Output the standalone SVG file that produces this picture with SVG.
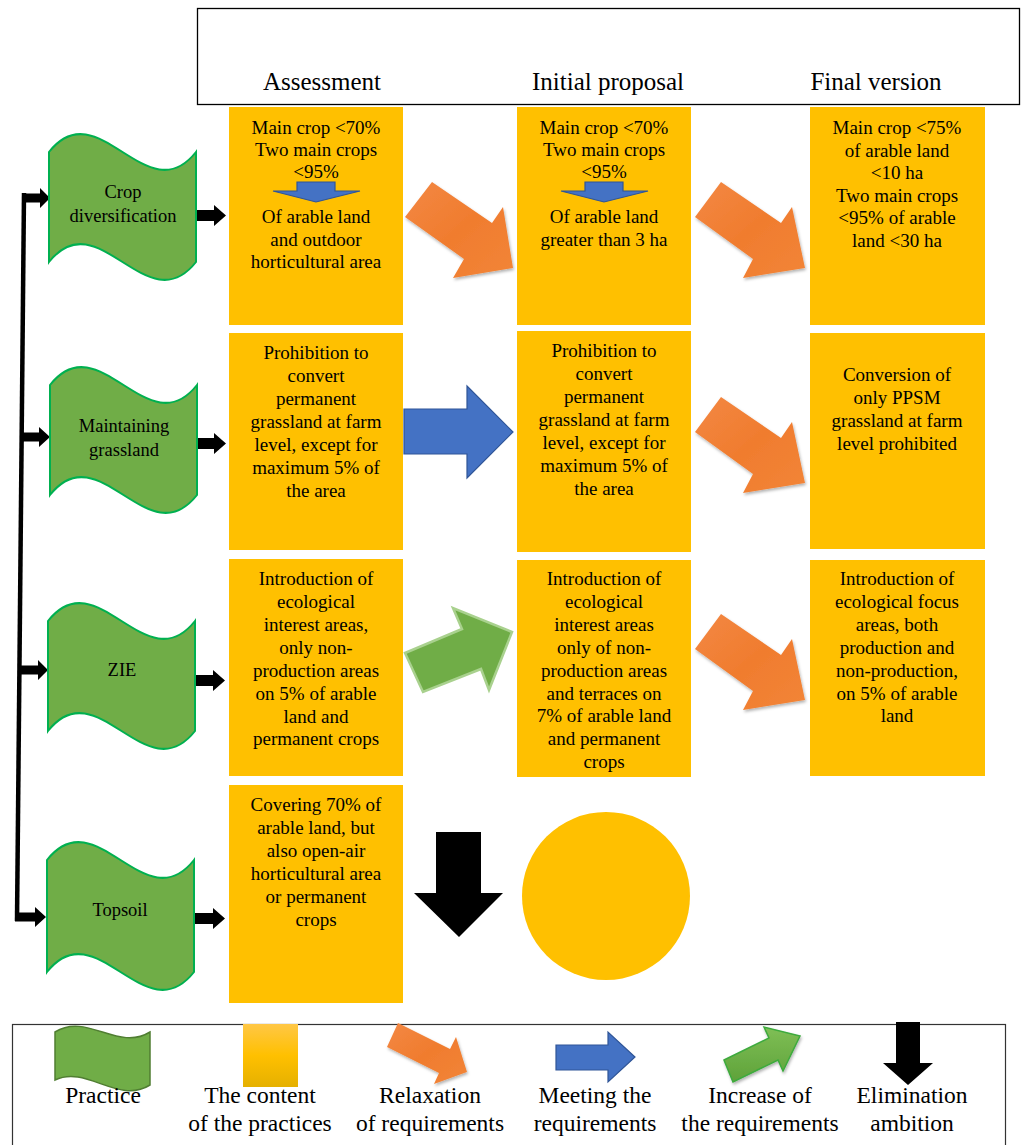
<svg xmlns="http://www.w3.org/2000/svg" width="1023" height="1145" viewBox="0 0 1023 1145">
<style>
.bg{fill:#ffffff}
.box{fill:#FFC000}
.flag{fill:#70AD47;stroke:#00B050;stroke-width:2}
.t{font-family:"Liberation Serif","Times New Roman",serif;font-size:19px;fill:#000;text-anchor:middle}
.ft{font-family:"Liberation Serif","Times New Roman",serif;font-size:18.5px;fill:#000;text-anchor:middle}
.hd{font-family:"Liberation Serif","Times New Roman",serif;font-size:25px;fill:#000;text-anchor:middle}
.lg{font-family:"Liberation Serif","Times New Roman",serif;font-size:23.5px;fill:#000;text-anchor:middle}
.blk{fill:#000}
.blue{fill:#4472C4;stroke:#2F5597;stroke-width:1.2}
.orange{fill:url(#og);filter:url(#sh)}
.green{fill:#70AD47;stroke:#A9D18E;stroke-width:2.5}
</style>
<defs>
<linearGradient id="og" x1="0" y1="0" x2="1" y2="1">
<stop offset="0" stop-color="#F38844"/>
<stop offset="0.5" stop-color="#F07C2E"/>
<stop offset="1" stop-color="#F28538"/>
</linearGradient>
<linearGradient id="yg" x1="0" y1="0" x2="0" y2="1">
<stop offset="0" stop-color="#FFC746"/>
<stop offset="0.5" stop-color="#FFC000"/>
<stop offset="1" stop-color="#E5B000"/>
</linearGradient>
<linearGradient id="gg" x1="0" y1="0" x2="0" y2="1">
<stop offset="0" stop-color="#7FBF55"/>
<stop offset="1" stop-color="#5EA23A"/>
</linearGradient>
<filter id="sh" x="-20%" y="-20%" width="140%" height="140%">
<feDropShadow dx="1" dy="2" stdDeviation="1.5" flood-color="#000" flood-opacity="0.3"/>
</filter>
</defs>
<rect class="bg" x="0" y="0" width="1023" height="1145"/>

<g id="header">
<rect x="197.5" y="8.5" width="822" height="96" fill="none" stroke="#000" stroke-width="1.3"/>
<text class="hd" x="322" y="90">Assessment</text>
<text class="hd" x="608" y="90">Initial proposal</text>
<text class="hd" x="876" y="90">Final version</text>
</g>

<g id="connectors">
<line x1="24" y1="193" x2="17" y2="921" stroke="#000" stroke-width="4.5"/>
<polygon class="blk" points="22,193.5 40,193.5 40,188 50,198 40,208 40,202.5 22,202.5"/>
<polygon class="blk" points="20,432.5 39,432.5 39,427 50,437 39,447 39,441.5 20,441.5"/>
<polygon class="blk" points="18,665.5 38,665.5 38,660 48,670 38,680 38,674.5 18,674.5"/>
<polygon class="blk" points="15,912.5 35,912.5 35,907 46,917 35,927 35,921.5 15,921.5"/>
<polygon class="blk" points="197,210 214,210 214,205 226,215.5 214,226 214,221 197,221"/>
<polygon class="blk" points="197,438 214,438 214,433 226,443.5 214,454 214,449 197,449"/>
<polygon class="blk" points="196,675 213,675 213,670 225,680.5 213,691 213,686 196,686"/>
<polygon class="blk" points="194,913 213,913 213,908 225,918.5 213,929 213,924 194,924"/>
<polygon class="orange" points="432,182 492,223 503,207 513,268 453,278 464,259 405,217"/>
<polygon class="orange" points="721,182 781,223 792,207 805,268 743,278 753,259 695,217"/>
<polygon class="orange" points="721,397 781,438 792,422 805,483 743,493 753,474 695,432"/>
<polygon class="orange" points="721,614 781,655 792,639 805,700 743,710 753,691 695,649"/>
<polygon class="blue" points="404,409 467,409 467,386 513,432 467,478 467,454 404,454"/>
<polygon class="green" points="405,653 462,629 453,608 512,632 489,690 481,669 423,692"/>
<polygon class="blk" points="436,832 481,832 481,893 503,893 459,937 414,893 436,893"/>
</g>

<g id="flag-crop">
<path class="flag" d="M49,152 C98,90 147,214 196,152 L196,262 C147,324 98,200 49,262 Z"/>
<text class="ft" x="123" y="198">Crop</text>
<text class="ft" x="123" y="222">diversification</text>
</g>
<g id="flag-grass">
<path class="flag" d="M50,385 C99,323 148,447 197,385 L197,495 C148,557 99,433 50,495 Z"/>
<text class="ft" x="124" y="432">Maintaining</text>
<text class="ft" x="124" y="456">grassland</text>
</g>
<g id="flag-zie">
<path class="flag" d="M48,621 C97,559 146,683 195,621 L195,731 C146,793 97,669 48,731 Z"/>
<text class="ft" x="122" y="676">ZIE</text>
</g>
<g id="flag-topsoil">
<path class="flag" d="M47,860 C96,798 145,922 194,860 L194,972 C145,1034 96,910 47,972 Z"/>
<text class="ft" x="120" y="916">Topsoil</text>
</g>

<g id="box-1-1">
<rect class="box" x="229" y="107" width="174" height="218"/>
<text class="t" x="316" y="134">Main crop &lt;70%</text>
<text class="t" x="316" y="156">Two main crops</text>
<text class="t" x="316" y="178">&lt;95%</text>
<polygon class="blue" points="297,182 335,182 335,191 360,191 316,202 273,191 297,191"/>
<text class="t" x="316" y="223">Of arable land</text>
<text class="t" x="316" y="246">and outdoor</text>
<text class="t" x="316" y="268">horticultural area</text>
</g>
<g id="box-1-2">
<rect class="box" x="517" y="107" width="174" height="218"/>
<text class="t" x="604" y="134">Main crop &lt;70%</text>
<text class="t" x="604" y="156">Two main crops</text>
<text class="t" x="604" y="178">&lt;95%</text>
<polygon class="blue" points="585,182 623,182 623,191 648,191 604,202 561,191 585,191"/>
<text class="t" x="604" y="223">Of arable land</text>
<text class="t" x="604" y="246">greater than 3 ha</text>
</g>
<g id="box-1-3">
<rect class="box" x="810" y="107" width="175" height="218"/>
<text class="t" x="897" y="134">Main crop &lt;75%</text>
<text class="t" x="897" y="157">of arable land</text>
<text class="t" x="897" y="179">&lt;10 ha</text>
<text class="t" x="897" y="202">Two main crops</text>
<text class="t" x="897" y="224">&lt;95% of arable</text>
<text class="t" x="897" y="247">land &lt;30 ha</text>
</g>

<g id="box-2-1">
<rect class="box" x="229" y="333" width="174" height="217"/>
<text class="t" x="316" y="359">Prohibition to</text>
<text class="t" x="316" y="382">convert</text>
<text class="t" x="316" y="405">permanent</text>
<text class="t" x="316" y="428">grassland at farm</text>
<text class="t" x="316" y="451">level, except for</text>
<text class="t" x="316" y="474">maximum 5% of</text>
<text class="t" x="316" y="497">the area</text>
</g>
<g id="box-2-2">
<rect class="box" x="517" y="331" width="174" height="221"/>
<text class="t" x="604" y="357">Prohibition to</text>
<text class="t" x="604" y="380">convert</text>
<text class="t" x="604" y="403">permanent</text>
<text class="t" x="604" y="426">grassland at farm</text>
<text class="t" x="604" y="449">level, except for</text>
<text class="t" x="604" y="472">maximum 5% of</text>
<text class="t" x="604" y="495">the area</text>
</g>
<g id="box-2-3">
<rect class="box" x="810" y="333" width="175" height="216"/>
<text class="t" x="897" y="381">Conversion of</text>
<text class="t" x="897" y="404">only PPSM</text>
<text class="t" x="897" y="427">grassland at farm</text>
<text class="t" x="897" y="450">level prohibited</text>
</g>

<g id="box-3-1">
<rect class="box" x="229" y="559" width="174" height="217"/>
<text class="t" x="316" y="585">Introduction of</text>
<text class="t" x="316" y="608">ecological</text>
<text class="t" x="316" y="631">interest areas,</text>
<text class="t" x="316" y="654">only non-</text>
<text class="t" x="316" y="677">production areas</text>
<text class="t" x="316" y="700">on 5% of arable</text>
<text class="t" x="316" y="723">land and</text>
<text class="t" x="316" y="745">permanent crops</text>
</g>
<g id="box-3-2">
<rect class="box" x="517" y="560" width="174" height="217"/>
<text class="t" x="604" y="585">Introduction of</text>
<text class="t" x="604" y="608">ecological</text>
<text class="t" x="604" y="631">interest areas</text>
<text class="t" x="604" y="654">only of non-</text>
<text class="t" x="604" y="677">production areas</text>
<text class="t" x="604" y="700">and terraces on</text>
<text class="t" x="604" y="722">7% of arable land</text>
<text class="t" x="604" y="745">and permanent</text>
<text class="t" x="604" y="768">crops</text>
</g>
<g id="box-3-3">
<rect class="box" x="810" y="560" width="175" height="216"/>
<text class="t" x="897" y="585">Introduction of</text>
<text class="t" x="897" y="608">ecological focus</text>
<text class="t" x="897" y="631">areas, both</text>
<text class="t" x="897" y="654">production and</text>
<text class="t" x="897" y="677">non-production,</text>
<text class="t" x="897" y="700">on 5% of arable</text>
<text class="t" x="897" y="722">land</text>
</g>

<g id="box-4-1">
<rect class="box" x="229" y="785" width="174" height="218"/>
<text class="t" x="316" y="811">Covering 70% of</text>
<text class="t" x="316" y="834">arable land, but</text>
<text class="t" x="316" y="857">also open-air</text>
<text class="t" x="316" y="880">horticultural area</text>
<text class="t" x="316" y="903">or permanent</text>
<text class="t" x="316" y="926">crops</text>
</g>
<g id="eliminated">
<circle cx="606" cy="896" r="84" fill="#FFC000"/>
</g>

<g id="legend">
<rect x="12.5" y="1024.5" width="993" height="140" fill="none" stroke="#333" stroke-width="1.2"/>
<path d="M55,1032 C87,1012 118,1052 150,1032 L150,1085 C118,1105 87,1065 55,1080 Z" fill="#70AD47" stroke="#507E32" stroke-width="1.5"/>
<text class="lg" x="103" y="1103">Practice</text>
<rect x="243" y="1024" width="55" height="63" fill="url(#yg)"/>
<text class="lg" x="260" y="1103">The content</text>
<text class="lg" x="260" y="1131">of the practices</text>
<polygon class="orange" points="398,1023 450,1049 456,1037 467,1072 434,1084 439,1073 387,1047"/>
<text class="lg" x="430" y="1103">Relaxation</text>
<text class="lg" x="430" y="1131">of requirements</text>
<polygon class="blue" points="556,1045 608,1045 608,1032 635,1057 608,1082 608,1070 556,1070"/>
<text class="lg" x="595" y="1103">Meeting the</text>
<text class="lg" x="595" y="1131">requirements</text>
<polygon points="724,1060 769,1038 764,1027 800,1036 783,1071 778,1060 733,1082" fill="url(#gg)" stroke="#3DAA3D" stroke-width="1.5" filter="url(#sh)"/>
<text class="lg" x="760" y="1103">Increase of</text>
<text class="lg" x="760" y="1131">the requirements</text>
<polygon class="blk" points="896,1022 920,1022 920,1063 933,1063 908,1085 883,1063 896,1063"/>
<text class="lg" x="912" y="1103">Elimination</text>
<text class="lg" x="912" y="1131">ambition</text>
</g>
</svg>
